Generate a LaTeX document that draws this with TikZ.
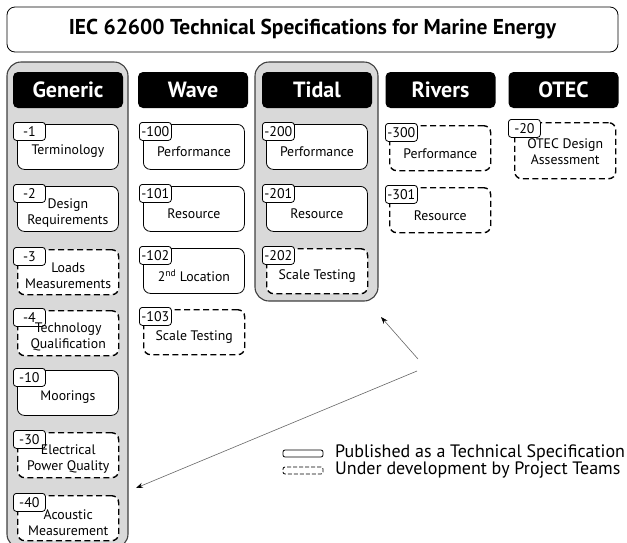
\documentclass[tikz,border=0pt]{standalone}
\usepackage{fontspec}
\setmainfont{PT Sans}
\usetikzlibrary{arrows.meta,calc,positioning}

\begin{document}
\begin{tikzpicture}[x=1pt, y=-1pt,
    panel/.style={draw=black!75, line width=1.1pt, fill=black!15, rounded corners=14pt, inner sep=0pt},
    header/.style={fill=black, rounded corners=5pt, minimum width=110pt, minimum height=36pt, inner sep=0pt,
        text=white, font=\fontsize{22}{26}\selectfont\bfseries},
    spec/.style={draw, line width=0.8pt, fill=white, rounded corners=7pt, minimum width=101pt,
        minimum height=45pt, inner sep=0pt, anchor=north west},
    draft/.style={spec, line width=1.4pt, dash pattern=on 6pt off 3.5pt},
    tab/.style={draw, line width=0.8pt, fill=white, rounded corners=3pt, minimum width=32pt,
        minimum height=18pt, inner sep=0pt, anchor=north west, font=\fontsize{14}{16}\selectfont},
    spectext/.style={align=center, inner sep=0pt, font=\fontsize{13.8}{16}\selectfont},
    pointer/.style={draw=black!60, line width=0.6pt, -{Stealth[length=7pt, width=5pt, black]}}
]
\useasboundingbox (0,0) rectangle (627,542);

% title
\node[draw, line width=0.8pt, rounded corners=8pt, minimum width=611pt, minimum height=45pt,
    font=\fontsize{21.5}{25}\selectfont\bfseries] (title) at (312.5,29.5)
    {IEC 62600 Technical Specifications for Marine Energy};

% highlighted columns
\node[panel, minimum width=121pt, minimum height=486pt] (genpanel) at (67.5,305) {};
\node[panel, minimum width=123pt, minimum height=239pt] (tidpanel) at (316.5,181.5) {};

% column headers
\node[header] (generic) at (68,90) {Generic};
\node[header] (wave) at (193,90) {Wave};
\node[header] (tidal) at (317,90) {Tidal};
\node[header] (rivers) at (440.5,90) {Rivers};
\node[header] (otec) at (563.5,90) {OTEC};

% generic
\foreach \n/\y/\s/\t [count=\i] in {1/124/spec/Terminology, 2/186/spec/{Design\\Requirements},
    3/249/draft/{Loads\\Measurements}, 4/310/draft/{Technology\\Qualification},
    10/370/spec/Moorings, 30/432/draft/{Electrical\\Power Quality},
    40/495/draft/{Acoustic\\Measurement}} {
  \node[\s] (gen\i) at (17,\y) {};
  \node[tab] (gen\i-tab) at ($(gen\i.north west)+(-4,-2)$) {-\n};
  \node[spectext] (gen\i-text) at ($(gen\i.center)+(0,4)$) {\t};
}

% wave
\foreach \n/\y/\s/\t [count=\i] in {100/124/spec/Performance, 101/186/spec/Resource,
    102/248/spec/{2\textsuperscript{nd} Location}, 103/309/draft/{Scale Testing}} {
  \node[\s] (wav\i) at (143,\y) {};
  \node[tab] (wav\i-tab) at ($(wav\i.north west)+(-4,-2)$) {-\n};
  \node[spectext] (wav\i-text) at ($(wav\i.center)+(0,5)$) {\t};
}

% tidal
\foreach \n/\y/\s/\t [count=\i] in {200/124/spec/Performance, 201/186/spec/Resource,
    202/248/draft/{Scale Testing}} {
  \node[\s] (tid\i) at (266,\y) {};
  \node[tab] (tid\i-tab) at ($(tid\i.north west)+(-4,-2)$) {-\n};
  \node[spectext] (tid\i-text) at ($(tid\i.center)+(0,5)$) {\t};
}

% rivers
\foreach \n/\y/\s/\t [count=\i] in {300/125/draft/Performance, 301/187/draft/Resource} {
  \node[\s] (riv\i) at (389,\y) {};
  \node[tab] (riv\i-tab) at ($(riv\i.north west)+(-4,-2)$) {-\n};
  \node[spectext] (riv\i-text) at ($(riv\i.center)+(0,5)$) {\t};
}

% otec
\node[draft, minimum height=56pt] (ote1) at (514,122) {};
\node[tab] (ote1-tab) at ($(ote1.north west)+(-6,-3)$) {-20};
\node[spectext] (ote1-text) at ($(ote1.center)+(0,1)$) {OTEC Design\\Assessment};

% pointers
\coordinate (hint1) at (418,359);
\coordinate (hint2) at (417,371);
\coordinate (tidtip) at (381,317);
\coordinate (gentip) at (136,488);
\draw[pointer] (hint1) -- (tidtip);
\draw[pointer] (hint2) -- (gentip);

% legend
\node[draw, line width=0.8pt, rounded corners=2pt, minimum width=40pt, minimum height=7pt,
    inner sep=0pt] (legpub) at (303,453.5) {};
\node[draw, line width=0.8pt, rounded corners=2pt, dash pattern=on 4pt off 2pt, minimum width=40pt,
    minimum height=7pt, inner sep=0pt] (legdev) at (303,470.5) {};
\node[anchor=west, inner sep=0pt, font=\fontsize{18}{20}\selectfont] (pubtext) at (335,453)
    {Published as a Technical Specification};
\node[anchor=west, inner sep=0pt, font=\fontsize{18}{20}\selectfont] (devtext) at (335,470.5)
    {Under development by Project Teams};
\end{tikzpicture}
\end{document}
